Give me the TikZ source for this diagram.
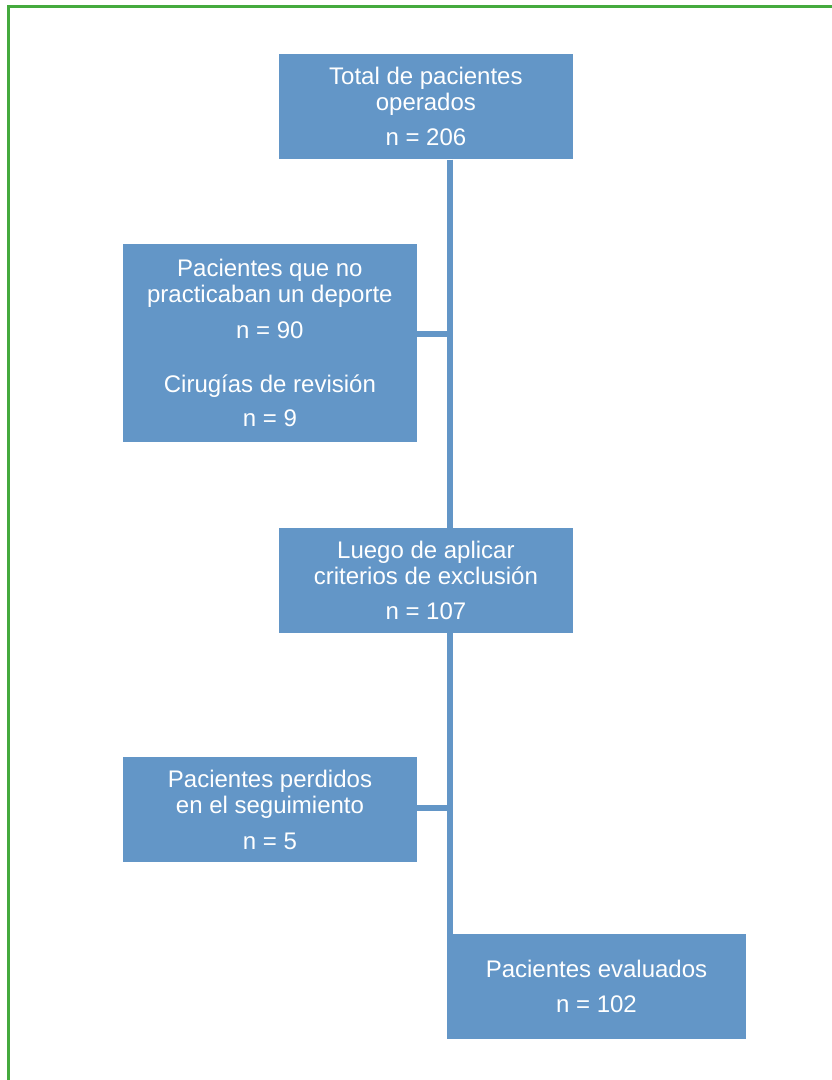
\documentclass[tikz,border=0pt]{standalone}
\usepackage{fontspec}
\setmainfont{Liberation Sans}
\definecolor{cajaazul}{HTML}{6396C7}
\definecolor{marcoverde}{HTML}{45AA3E}
\tikzset{
    caja/.style={fill=cajaazul, text=white, align=center, inner sep=0pt,
        minimum width=293.7pt, minimum height=105.3pt,
        font=\fontsize{24}{26}\selectfont},
    enlace/.style={draw=cajaazul, line width=5.7pt},
    marco/.style={draw=marcoverde, line width=3pt}
}
\begin{document}
\begin{tikzpicture}[x=1pt,y=-1pt]
                \useasboundingbox (0,0) rectangle (832,1080);
                \draw[marco] (8,1081) -- (8,6) -- (833,6);

                \node[caja] (total) at (425.9,106.7) {Total de pacientes\\ operados\\[9pt] n = 206};
                \node[caja, minimum height=198pt] (excluidos) at (269.9,343) {Pacientes que no\\ practicaban un deporte\\[10pt] n = 90\\[28pt] Cirugías de revisión\\[8pt] n = 9};
                \node[caja] (criterios) at (425.9,580.5) {Luego de aplicar\\ criterios de exclusión\\[9pt] n = 107};
                \node[caja, minimum width=294pt] (perdidos) at (270,809.5) {Pacientes perdidos\\ en el seguimiento\\[10pt] n = 5};
                \node[caja, minimum width=299pt] (evaluados) at (596.5,986.6) {Pacientes evaluados\\[9pt] n = 102};

                \draw[enlace] ([xshift=24pt]total.south) -- ([xshift=24pt]total.south |- criterios.north);
                \draw[enlace] ([xshift=24pt]criterios.south) -- ([xshift=24pt]criterios.south |- evaluados.north);
                \draw[enlace] ([yshift=9pt]excluidos.east) -- ([yshift=9pt,xshift=24pt]excluidos.east -| total.south);
                \draw[enlace] ([yshift=1.5pt]perdidos.east) -- ([yshift=1.5pt,xshift=24pt]perdidos.east -| total.south);

            \end{tikzpicture}
\end{document}
